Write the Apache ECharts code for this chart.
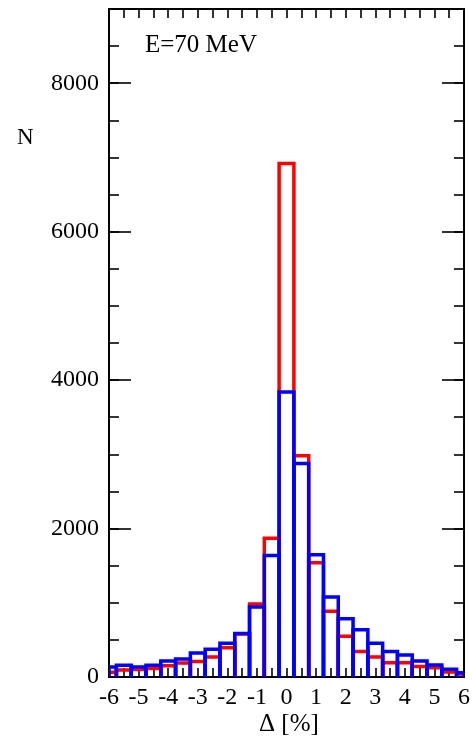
<!DOCTYPE html>
<html>
<head>
<meta charset="utf-8">
<script src="https://cdn.jsdelivr.net/npm/echarts@6/dist/echarts.min.js"></script>
<style>html,body{margin:0;padding:0;background:#fff}#c{width:473px;height:738px}</style>
</head>
<body>
<div id="c"></div>
<script>
// Bin centres (bin width 0.5)
var binCenters = [-6,-5.5,-5,-4.5,-4,-3.5,-3,-2.5,-2,-1.5,-1,-0.5,0,0.5,1,1.5,2,2.5,3,3.5,4,4.5,5,5.5,6];
var redCounts  = [63,94,100,116,150,188,210,270,394,580,985,1870,6920,2980,1540,886,550,345,268,192,192,143,125,68,40];
var blueCounts = [135,158,135,158,215,242,322,373,454,586,944,1637,3840,2875,1646,1078,785,635,456,345,295,217,163,103,57];
var yLabelValues = [0,2000,4000,6000,8000];
var xLabelValues = [-6,-5,-4,-3,-2,-1,0,1,2,3,4,5,6];

var FONT = '"Liberation Serif","Times New Roman",serif';
var BIN_HALF = 0.25, XMIN = -6, XMAX = 6;

function makeRender(color){
  return function(params, api){
    var c = api.value(0), v = api.value(1);
    var x0 = Math.max(c - BIN_HALF, XMIN), x1 = Math.min(c + BIN_HALF, XMAX);
    var a = api.coord([x0, 0]), b = api.coord([x0, v]), d = api.coord([x1, v]), e = api.coord([x1, 0]);
    return {
      type: 'polyline',
      shape: {points: [a, b, d, e]},
      style: {fill: null, stroke: color, lineWidth: 3.5, lineJoin: 'miter'}
    };
  };
}

var chart = echarts.init(document.getElementById('c'), null, {renderer: 'canvas'});
var axisLine = {show: true, onZero: false, lineStyle: {color: '#000', width: 1.8}};
function yAx(pos, interval, len, labels){
  return {
    type: 'value', position: pos, min: 0, max: 9000, interval: interval,
    axisLine: axisLine,
    axisTick: {show: true, inside: true, length: len, lineStyle: {color: '#000', width: 1.6}},
    axisLabel: labels ? {
      show: true, interval: 0, color: '#000', fontFamily: FONT, fontSize: 24, margin: 10,
      formatter: function(v){ return yLabelValues.indexOf(v) >= 0 ? String(v) : ''; }
    } : {show: false},
    splitLine: {show: false}
  };
}
function xAx(pos, labels){
  return {
    type: 'value', position: pos, min: XMIN, max: XMAX, interval: 0.5,
    axisLine: axisLine,
    axisTick: {show: true, inside: true, length: 9, lineStyle: {color: '#000', width: 1.6}},
    axisLabel: labels ? {
      show: true, interval: 0, color: '#000', fontFamily: FONT, fontSize: 24, margin: 9,
      formatter: function(v){ return xLabelValues.indexOf(v) >= 0 ? String(v) : ''; }
    } : {show: false},
    splitLine: {show: false}
  };
}

chart.setOption({
  animation: false,
  backgroundColor: '#fff',
  grid: {left: 109, right: 3, top: 9, bottom: 61, containLabel: false},
  xAxis: [xAx('bottom', true), xAx('top', false)],
  yAxis: [yAx('left', 500, 10, true), yAx('left', 2000, 22, false), yAx('right', 500, 10, false), yAx('right', 2000, 22, false)],
  series: [
    {type: 'custom', name: 'red', xAxisIndex: 0, yAxisIndex: 0, clip: true,
     renderItem: makeRender('#ff0000'),
     data: binCenters.map(function(c, i){ return [c, redCounts[i]]; })},
    {type: 'custom', name: 'blue', xAxisIndex: 0, yAxisIndex: 0, clip: true,
     renderItem: makeRender('#0000ff'),
     data: binCenters.map(function(c, i){ return [c, blueCounts[i]]; })}
  ],
  graphic: [
    {type: 'text', left: 145, top: 33, style: {text: 'E=70 MeV', font: '25px ' + FONT, fill: '#000'}},
    {type: 'text', left: 17, top: 126, style: {text: 'N', font: '23px ' + FONT, fill: '#000'}},
    {type: 'text', left: 259, top: 712, style: {text: 'Δ [%]', font: '25px ' + FONT, fill: '#000'}}
  ]
});
</script>
</body>
</html>
